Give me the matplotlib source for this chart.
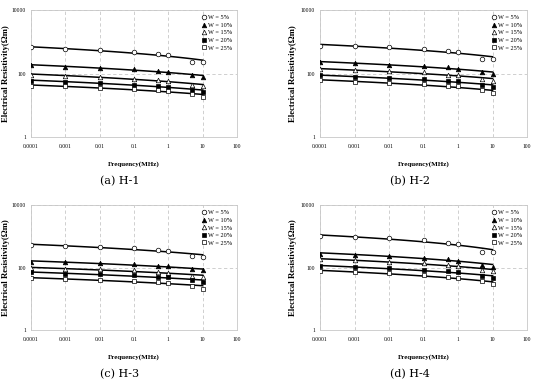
import numpy as np
import matplotlib
matplotlib.use("Agg")
import matplotlib.pyplot as plt

# frequencies (MHz) at which resistivity was measured
freq = [0.0001, 0.001, 0.01, 0.1, 0.5, 1, 5, 10]
labels = ["W = 5%", "W = 10%", "W = 15%", "W = 20%", "W = 25%"]

# resistivity (ohm m), one row per water content
h1 = [
    [660, 590, 550, 480, 415, 375, 235, 230],
    [182, 165, 152, 138, 120, 112, 87, 76],
    [93, 85, 78, 69, 61, 59, 45, 40],
    [60, 54, 51, 45, 41, 38, 30, 27],
    [41, 40, 35, 32, 31, 28, 22, 18],
]
h2 = [
    [760, 730, 660, 600, 520, 470, 295, 280],
    [225, 213, 192, 175, 155, 141, 108, 100],
    [134, 128, 118, 108, 93, 89, 68, 60],
    [87, 78, 71, 66, 60, 56, 44, 38],
    [61, 55, 51, 47, 41, 39, 30, 24],
]
h3 = [
    [525, 480, 455, 420, 365, 338, 230, 222],
    [154, 151, 135, 128, 114, 108, 87, 81],
    [95, 91, 87, 81, 74, 68, 55, 49],
    [71, 62, 60, 56, 51, 49, 40, 35],
    [45, 42, 40, 37, 35, 33, 26, 21],
]
h4 = [
    [1030, 930, 870, 750, 610, 560, 325, 315],
    [280, 260, 235, 208, 183, 166, 124, 107],
    [183, 170, 155, 135, 120, 112, 85, 79],
    [112, 102, 94, 83, 75, 72, 54, 47],
    [77, 72, 65, 57, 49, 47, 36, 29],
]
panels = [h1, h2, h3, h4]
captions = ["(a) H-1", "(b) H-2", "(c) H-3", "(d) H-4"]

markers = [("o", "white"), ("^", "black"), ("^", "white"), ("s", "black"), ("s", "white")]

plt.rcParams["font.family"] = ["Liberation Serif", "DejaVu Serif"]

fig = plt.figure(figsize=(5.35, 3.79), dpi=100)

# axes boxes in figure pixels: left, top, right, bottom
boxes = [(31, 10, 237, 137), (320, 10, 527, 137),
         (31, 205, 237, 330), (320, 205, 527, 330)]
ylab_x = [6, 293, 6, 293]  # pixel x of the y-label centre
W, H = 535, 379

for data, cap, (l, t, r, b), yx in zip(panels, captions, boxes, ylab_x):
    ax = fig.add_axes([l / W, 1 - b / H, (r - l) / W, (b - t) / H])
    ax.set_xscale("log")
    ax.set_yscale("log")
    ax.set_xlim(0.0001, 100)
    ax.set_ylim(1, 10000)

    # logarithmic trendline (y = a*log(x) + b), as a spreadsheet would fit
    lx = np.log10(freq)
    xs = np.linspace(lx[0], lx[-1], 100)
    for vals, lab, (mk, fc) in zip(data, labels, markers):
        coef = np.polyfit(lx, vals, 1)
        ax.plot(10 ** xs, np.polyval(coef, xs), color="black", lw=1.1, zorder=2)
        ax.plot(freq, vals, linestyle="none", marker=mk, markersize=3.3,
                markerfacecolor=fc, markeredgecolor="black", markeredgewidth=0.5,
                label=lab, zorder=3)

    ax.set_xticks([0.0001, 0.001, 0.01, 0.1, 1, 10, 100])
    ax.set_xticklabels(["0.0001", "0.001", "0.01", "0.1", "1", "10", "100"])
    ax.set_yticks([1, 100, 10000])
    ax.set_yticklabels(["1", "100", "10000"])
    ax.minorticks_off()
    ax.tick_params(axis="x", length=0, labelsize=4, pad=5)
    ax.tick_params(axis="y", length=0, labelsize=4, pad=3.5)
    ax.grid(True, which="major", color="#c8c8c8", linestyle=(0, (4, 3)), lw=0.6)
    for s in ax.spines.values():
        s.set_color("#c8c8c8")
        s.set_linewidth(0.6)

    ax.set_xlabel("Frequency(MHz)", fontsize=5, fontweight="bold", labelpad=9)
    ax.set_ylabel("Electrical Resistivity(\u03a9m)", fontsize=6.3, fontweight="bold",
                  va="center")
    ax.yaxis.set_label_coords((yx - l) / (r - l), 0.5)

    ax.legend(loc="upper right", frameon=False, fontsize=4.5,
              handlelength=0.6, handletextpad=0.3, labelspacing=0.35,
              borderaxespad=0.4)

    fig.text(((l + r) / 2 - 14) / W, 1 - (b + 44) / H, cap,
             ha="center", va="center", fontsize=8,
             family=["DejaVu Serif"])

fig.savefig("out.png", dpi=100)
